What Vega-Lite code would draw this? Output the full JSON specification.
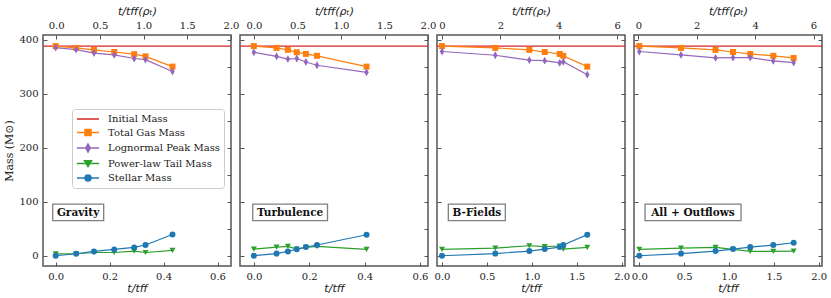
{
  "$schema": "https://vega.github.io/schema/vega-lite/v6.json",
  "padding": {"left": 3, "top": 4, "right": 0, "bottom": 0},
  "background": "white",
  "datasets": {
    "p1": [
      {"t": 0, "series": "Total Gas Mass", "m": 388}, {"t": 0.076, "series": "Total Gas Mass", "m": 384.6}, {"t": 0.142, "series": "Total Gas Mass", "m": 381}, {"t": 0.217, "series": "Total Gas Mass", "m": 377}, {"t": 0.291, "series": "Total Gas Mass", "m": 373}, {"t": 0.333, "series": "Total Gas Mass", "m": 369}, {"t": 0.433, "series": "Total Gas Mass", "m": 350},
      {"t": 0, "series": "Lognormal Peak Mass", "m": 385}, {"t": 0.076, "series": "Lognormal Peak Mass", "m": 381.5}, {"t": 0.142, "series": "Lognormal Peak Mass", "m": 375}, {"t": 0.217, "series": "Lognormal Peak Mass", "m": 371.6}, {"t": 0.291, "series": "Lognormal Peak Mass", "m": 365}, {"t": 0.333, "series": "Lognormal Peak Mass", "m": 363}, {"t": 0.433, "series": "Lognormal Peak Mass", "m": 341},
      {"t": 0, "series": "Power-law Tail Mass", "m": 3.5}, {"t": 0.076, "series": "Power-law Tail Mass", "m": 3.7}, {"t": 0.142, "series": "Power-law Tail Mass", "m": 6}, {"t": 0.217, "series": "Power-law Tail Mass", "m": 6}, {"t": 0.291, "series": "Power-law Tail Mass", "m": 8.5}, {"t": 0.333, "series": "Power-law Tail Mass", "m": 6}, {"t": 0.433, "series": "Power-law Tail Mass", "m": 9.8},
      {"t": 0, "series": "Stellar Mass", "m": 0}, {"t": 0.076, "series": "Stellar Mass", "m": 3.7}, {"t": 0.142, "series": "Stellar Mass", "m": 8}, {"t": 0.217, "series": "Stellar Mass", "m": 11.7}, {"t": 0.291, "series": "Stellar Mass", "m": 15.4}, {"t": 0.333, "series": "Stellar Mass", "m": 19.8}, {"t": 0.433, "series": "Stellar Mass", "m": 39.4}
    ],
    "p2": [
      {"t": 0, "series": "Total Gas Mass", "m": 388}, {"t": 0.082, "series": "Total Gas Mass", "m": 384.6}, {"t": 0.123, "series": "Total Gas Mass", "m": 381}, {"t": 0.155, "series": "Total Gas Mass", "m": 376.5}, {"t": 0.188, "series": "Total Gas Mass", "m": 373.5}, {"t": 0.228, "series": "Total Gas Mass", "m": 370}, {"t": 0.407, "series": "Total Gas Mass", "m": 350},
      {"t": 0, "series": "Lognormal Peak Mass", "m": 376.5}, {"t": 0.082, "series": "Lognormal Peak Mass", "m": 369}, {"t": 0.123, "series": "Lognormal Peak Mass", "m": 364}, {"t": 0.155, "series": "Lognormal Peak Mass", "m": 365}, {"t": 0.188, "series": "Lognormal Peak Mass", "m": 358.6}, {"t": 0.228, "series": "Lognormal Peak Mass", "m": 352.5}, {"t": 0.407, "series": "Lognormal Peak Mass", "m": 339.5},
      {"t": 0, "series": "Power-law Tail Mass", "m": 12.3}, {"t": 0.082, "series": "Power-law Tail Mass", "m": 16}, {"t": 0.123, "series": "Power-law Tail Mass", "m": 17.3}, {"t": 0.155, "series": "Power-law Tail Mass", "m": 12.3}, {"t": 0.188, "series": "Power-law Tail Mass", "m": 15.4}, {"t": 0.228, "series": "Power-law Tail Mass", "m": 17.3}, {"t": 0.407, "series": "Power-law Tail Mass", "m": 11.7},
      {"t": 0, "series": "Stellar Mass", "m": 0}, {"t": 0.082, "series": "Stellar Mass", "m": 4}, {"t": 0.123, "series": "Stellar Mass", "m": 8}, {"t": 0.155, "series": "Stellar Mass", "m": 12}, {"t": 0.188, "series": "Stellar Mass", "m": 16}, {"t": 0.228, "series": "Stellar Mass", "m": 19.8}, {"t": 0.407, "series": "Stellar Mass", "m": 38.9}
    ],
    "p3": [
      {"t": 0, "series": "Total Gas Mass", "m": 388}, {"t": 0.593, "series": "Total Gas Mass", "m": 384.6}, {"t": 0.972, "series": "Total Gas Mass", "m": 381}, {"t": 1.143, "series": "Total Gas Mass", "m": 377}, {"t": 1.31, "series": "Total Gas Mass", "m": 373.5}, {"t": 1.35, "series": "Total Gas Mass", "m": 370}, {"t": 1.617, "series": "Total Gas Mass", "m": 350},
      {"t": 0, "series": "Lognormal Peak Mass", "m": 378}, {"t": 0.593, "series": "Lognormal Peak Mass", "m": 371}, {"t": 0.972, "series": "Lognormal Peak Mass", "m": 362}, {"t": 1.143, "series": "Lognormal Peak Mass", "m": 361}, {"t": 1.31, "series": "Lognormal Peak Mass", "m": 357}, {"t": 1.35, "series": "Lognormal Peak Mass", "m": 359}, {"t": 1.617, "series": "Lognormal Peak Mass", "m": 335},
      {"t": 0, "series": "Power-law Tail Mass", "m": 11.7}, {"t": 0.593, "series": "Power-law Tail Mass", "m": 14.2}, {"t": 0.972, "series": "Power-law Tail Mass", "m": 18.5}, {"t": 1.143, "series": "Power-law Tail Mass", "m": 16.7}, {"t": 1.31, "series": "Power-law Tail Mass", "m": 18}, {"t": 1.35, "series": "Power-law Tail Mass", "m": 12.3}, {"t": 1.617, "series": "Power-law Tail Mass", "m": 15.4},
      {"t": 0, "series": "Stellar Mass", "m": 0}, {"t": 0.593, "series": "Stellar Mass", "m": 4}, {"t": 0.972, "series": "Stellar Mass", "m": 8.6}, {"t": 1.143, "series": "Stellar Mass", "m": 12.3}, {"t": 1.31, "series": "Stellar Mass", "m": 16}, {"t": 1.35, "series": "Stellar Mass", "m": 19.8}, {"t": 1.617, "series": "Stellar Mass", "m": 39}
    ],
    "p4": [
      {"t": 0, "series": "Total Gas Mass", "m": 388}, {"t": 0.465, "series": "Total Gas Mass", "m": 384.6}, {"t": 0.85, "series": "Total Gas Mass", "m": 381}, {"t": 1.045, "series": "Total Gas Mass", "m": 377}, {"t": 1.237, "series": "Total Gas Mass", "m": 373.5}, {"t": 1.494, "series": "Total Gas Mass", "m": 370}, {"t": 1.721, "series": "Total Gas Mass", "m": 366},
      {"t": 0, "series": "Lognormal Peak Mass", "m": 378}, {"t": 0.465, "series": "Lognormal Peak Mass", "m": 371.6}, {"t": 0.85, "series": "Lognormal Peak Mass", "m": 366}, {"t": 1.045, "series": "Lognormal Peak Mass", "m": 366.7}, {"t": 1.237, "series": "Lognormal Peak Mass", "m": 366.7}, {"t": 1.494, "series": "Lognormal Peak Mass", "m": 360.5}, {"t": 1.721, "series": "Lognormal Peak Mass", "m": 357.4},
      {"t": 0, "series": "Power-law Tail Mass", "m": 11.7}, {"t": 0.465, "series": "Power-law Tail Mass", "m": 14.2}, {"t": 0.85, "series": "Power-law Tail Mass", "m": 15.4}, {"t": 1.045, "series": "Power-law Tail Mass", "m": 11.7}, {"t": 1.237, "series": "Power-law Tail Mass", "m": 8}, {"t": 1.494, "series": "Power-law Tail Mass", "m": 8}, {"t": 1.721, "series": "Power-law Tail Mass", "m": 8.6},
      {"t": 0, "series": "Stellar Mass", "m": 0}, {"t": 0.465, "series": "Stellar Mass", "m": 4}, {"t": 0.85, "series": "Stellar Mass", "m": 8.6}, {"t": 1.045, "series": "Stellar Mass", "m": 12.3}, {"t": 1.237, "series": "Stellar Mass", "m": 16}, {"t": 1.494, "series": "Stellar Mass", "m": 19.8}, {"t": 1.721, "series": "Stellar Mass", "m": 24}
    ]
  },
  "spacing": 9,
  "bounds": "flush",
  "hconcat": [
    {
      "width": 188, "height": 231,
      "data": {"name": "p1"},
      "layer": [
        {"layer": [
          {"mark": {"type": "rule", "color": "#d62728", "strokeWidth": 1.2}, "data": {"values": [{}]}, "encoding": {"y": {"datum": 388, "type": "quantitative"}}},
          {"mark": {"type": "line", "strokeWidth": 1.2},
           "encoding": {
             "x": {"field": "t", "type": "quantitative", "scale": {"domain": [-0.047, 0.65], "nice": false, "zero": false}, "axis": {"orient": "bottom", "values": [0, 0.2, 0.4, 0.6], "format": ".1f", "title": "t/tff", "titleFontStyle": "italic", "titlePadding": 1}},
             "y": {"field": "m", "type": "quantitative", "scale": {"domain": [-19, 408.5], "nice": false, "zero": false}, "axis": {"orient": "left", "values": [0, 50, 100, 150, 200, 250, 300, 350, 400], "title": "Mass (M⊙)", "titleFont": "DejaVu Serif", "titlePadding": 4}},
             "color": {"field": "series", "type": "nominal",
               "scale": {"domain": ["Initial Mass", "Total Gas Mass", "Lognormal Peak Mass", "Power-law Tail Mass", "Stellar Mass"], "range": ["#d62728", "#ff7f0e", "#9467bd", "#2ca02c", "#1f77b4"]},
               "legend": {"orient": "none", "legendX": 29, "legendY": 74, "title": null, "labelFont": "DejaVu Serif", "labelFontSize": 10, "labelColor": "#222", "symbolSize": 100, "symbolStrokeWidth": 1.5, "rowPadding": 2.5, "labelOffset": 20, "padding": 4, "strokeColor": "#cccccc", "fillColor": "rgba(255,255,255,0.85)", "cornerRadius": 3, "symbolOpacity": 1,
                 "encode": {"symbols": {"update": {
                   "shape": {"signal": "datum.value==='Initial Mass'?'M-1,0H3.4':datum.value==='Total Gas Mass'?'M-1,0H3.4M0.6,-0.6H1.8V0.6H0.6Z':datum.value==='Lognormal Peak Mass'?'M-1,0H3.4M1.2,-0.8L1.65,0L1.2,0.8L0.75,0Z':datum.value==='Power-law Tail Mass'?'M-1,0H3.4M0.5,-0.55L1.9,-0.55L1.2,0.6Z':'M-1,0H3.4M1.8,0A0.6,0.6 0 1,1 0.6,0A0.6,0.6 0 1,1 1.8,0Z'"},
                   "stroke": {"signal": "datum.value==='Initial Mass'?'#d62728':datum.value==='Total Gas Mass'?'#ff7f0e':datum.value==='Lognormal Peak Mass'?'#9467bd':datum.value==='Power-law Tail Mass'?'#2ca02c':'#1f77b4'"},
                   "fill": {"signal": "datum.value==='Initial Mass'?'#d62728':datum.value==='Total Gas Mass'?'#ff7f0e':datum.value==='Lognormal Peak Mass'?'#9467bd':datum.value==='Power-law Tail Mass'?'#2ca02c':'#1f77b4'"},
                   "strokeWidth": {"value": 1.5},
                   "opacity": {"value": 1}
                 }}}
               }}
           }},
          {"mark": {"type": "point", "filled": true, "opacity": 1, "size": 36},
           "encoding": {
             "x": {"field": "t", "type": "quantitative"},
             "y": {"field": "m", "type": "quantitative"},
             "color": {"field": "series", "type": "nominal"},
             "shape": {"field": "series", "type": "nominal", "legend": null, "scale": {"domain": ["Total Gas Mass", "Lognormal Peak Mass", "Power-law Tail Mass", "Stellar Mass"], "range": ["square", "M0,-1.3L0.75,0L0,1.3L-0.75,0Z", "triangle-down", "circle"]}}
           }},
          {"mark": {"type": "rect", "fill": "white", "stroke": "#808080", "strokeWidth": 1.3}, "data": {"values": [{}]},
           "encoding": {"x": {"datum": -0.011, "type": "quantitative"}, "x2": {"datum": 0.178}, "y": {"datum": 95.4, "type": "quantitative"}, "y2": {"datum": 64.8}}},
          {"mark": {"type": "text", "font": "DejaVu Serif", "fontWeight": "bold", "fontSize": 10.5, "fill": "#111", "align": "center", "baseline": "middle"}, "data": {"values": [{}]},
           "encoding": {"x": {"datum": 0.083, "type": "quantitative"}, "y": {"datum": 80, "type": "quantitative"}, "text": {"value": "Gravity"}}}
        ]},
        {"mark": {"type": "point", "opacity": 0}, "data": {"values": [{}]},
         "encoding": {
           "x": {"datum": 0, "type": "quantitative", "scale": {"domain": [-0.15, 2.0], "nice": false, "zero": false}, "axis": {"orient": "top", "values": [0, 0.5, 1, 1.5, 2], "format": ".1f", "title": "t/tff(ρₜ)", "titleFontStyle": "italic", "titlePadding": 4}},
           "y": {"datum": 0, "type": "quantitative", "axis": {"orient": "right", "values": [0, 50, 100, 150, 200, 250, 300, 350, 400], "labels": false, "title": null}}
         }}
      ],
      "resolve": {"scale": {"x": "independent"}, "axis": {"x": "independent", "y": "independent"}}
    },
    {
      "width": 188, "height": 231,
      "data": {"name": "p2"},
      "layer": [
        {"layer": [
          {"mark": {"type": "rule", "color": "#d62728", "strokeWidth": 1.2}, "data": {"values": [{}]}, "encoding": {"y": {"datum": 388, "type": "quantitative"}}},
          {"mark": {"type": "line", "strokeWidth": 1.2},
           "encoding": {
             "x": {"field": "t", "type": "quantitative", "scale": {"domain": [-0.05, 0.629], "nice": false, "zero": false}, "axis": {"orient": "bottom", "values": [0, 0.2, 0.4, 0.6], "format": ".1f", "title": "t/tff", "titleFontStyle": "italic", "titlePadding": 1}},
             "y": {"field": "m", "type": "quantitative", "scale": {"domain": [-19, 408.5], "nice": false, "zero": false}, "axis": {"orient": "left", "values": [0, 50, 100, 150, 200, 250, 300, 350, 400], "labels": false, "title": null}},
             "color": {"field": "series", "type": "nominal"}
           }},
          {"mark": {"type": "point", "filled": true, "opacity": 1, "size": 36},
           "encoding": {
             "x": {"field": "t", "type": "quantitative"},
             "y": {"field": "m", "type": "quantitative"},
             "color": {"field": "series", "type": "nominal"},
             "shape": {"field": "series", "type": "nominal", "legend": null}
           }},
          {"mark": {"type": "rect", "fill": "white", "stroke": "#808080", "strokeWidth": 1.3}, "data": {"values": [{}]},
           "encoding": {"x": {"datum": -0.004, "type": "quantitative"}, "x2": {"datum": 0.266}, "y": {"datum": 95.4, "type": "quantitative"}, "y2": {"datum": 64.8}}},
          {"mark": {"type": "text", "font": "DejaVu Serif", "fontWeight": "bold", "fontSize": 10.5, "fill": "#111", "align": "center", "baseline": "middle"}, "data": {"values": [{}]},
           "encoding": {"x": {"datum": 0.131, "type": "quantitative"}, "y": {"datum": 80, "type": "quantitative"}, "text": {"value": "Turbulence"}}}
        ]},
        {"mark": {"type": "point", "opacity": 0}, "data": {"values": [{}]},
         "encoding": {
           "x": {"datum": 0, "type": "quantitative", "scale": {"domain": [-0.161, 2.0], "nice": false, "zero": false}, "axis": {"orient": "top", "values": [0, 0.5, 1, 1.5, 2], "format": ".1f", "title": "t/tff(ρₜ)", "titleFontStyle": "italic", "titlePadding": 4}},
           "y": {"datum": 0, "type": "quantitative", "axis": {"orient": "right", "values": [0, 50, 100, 150, 200, 250, 300, 350, 400], "labels": false, "title": null}}
         }}
      ],
      "resolve": {"scale": {"x": "independent"}, "axis": {"x": "independent", "y": "independent"}}
    },
    {
      "width": 188, "height": 231,
      "data": {"name": "p3"},
      "layer": [
        {"layer": [
          {"mark": {"type": "rule", "color": "#d62728", "strokeWidth": 1.2}, "data": {"values": [{}]}, "encoding": {"y": {"datum": 388, "type": "quantitative"}}},
          {"mark": {"type": "line", "strokeWidth": 1.2},
           "encoding": {
             "x": {"field": "t", "type": "quantitative", "scale": {"domain": [-0.056, 2.037], "nice": false, "zero": false}, "axis": {"orient": "bottom", "values": [0, 0.5, 1, 1.5, 2], "format": ".1f", "title": "t/tff", "titleFontStyle": "italic", "titlePadding": 1}},
             "y": {"field": "m", "type": "quantitative", "scale": {"domain": [-19, 408.5], "nice": false, "zero": false}, "axis": {"orient": "left", "values": [0, 50, 100, 150, 200, 250, 300, 350, 400], "labels": false, "title": null}},
             "color": {"field": "series", "type": "nominal"}
           }},
          {"mark": {"type": "point", "filled": true, "opacity": 1, "size": 36},
           "encoding": {
             "x": {"field": "t", "type": "quantitative"},
             "y": {"field": "m", "type": "quantitative"},
             "color": {"field": "series", "type": "nominal"},
             "shape": {"field": "series", "type": "nominal", "legend": null}
           }},
          {"mark": {"type": "rect", "fill": "white", "stroke": "#808080", "strokeWidth": 1.3}, "data": {"values": [{}]},
           "encoding": {"x": {"datum": 0.07, "type": "quantitative"}, "x2": {"datum": 0.705}, "y": {"datum": 95.4, "type": "quantitative"}, "y2": {"datum": 64.8}}},
          {"mark": {"type": "text", "font": "DejaVu Serif", "fontWeight": "bold", "fontSize": 10.5, "fill": "#111", "align": "center", "baseline": "middle"}, "data": {"values": [{}]},
           "encoding": {"x": {"datum": 0.388, "type": "quantitative"}, "y": {"datum": 80, "type": "quantitative"}, "text": {"value": "B-Fields"}}}
        ]},
        {"mark": {"type": "point", "opacity": 0}, "data": {"values": [{}]},
         "encoding": {
           "x": {"datum": 0, "type": "quantitative", "scale": {"domain": [-0.17, 6.27], "nice": false, "zero": false}, "axis": {"orient": "top", "values": [0, 2, 4, 6], "format": "d", "title": "t/tff(ρₜ)", "titleFontStyle": "italic", "titlePadding": 4}},
           "y": {"datum": 0, "type": "quantitative", "axis": {"orient": "right", "values": [0, 50, 100, 150, 200, 250, 300, 350, 400], "labels": false, "title": null}}
         }}
      ],
      "resolve": {"scale": {"x": "independent"}, "axis": {"x": "independent", "y": "independent"}}
    },
    {
      "width": 188, "height": 231,
      "data": {"name": "p4"},
      "layer": [
        {"layer": [
          {"mark": {"type": "rule", "color": "#d62728", "strokeWidth": 1.2}, "data": {"values": [{}]}, "encoding": {"y": {"datum": 388, "type": "quantitative"}}},
          {"mark": {"type": "line", "strokeWidth": 1.2},
           "encoding": {
             "x": {"field": "t", "type": "quantitative", "scale": {"domain": [-0.059, 2.037], "nice": false, "zero": false}, "axis": {"orient": "bottom", "values": [0, 0.5, 1, 1.5, 2], "format": ".1f", "title": "t/tff", "titleFontStyle": "italic", "titlePadding": 1}},
             "y": {"field": "m", "type": "quantitative", "scale": {"domain": [-19, 408.5], "nice": false, "zero": false}, "axis": {"orient": "left", "values": [0, 50, 100, 150, 200, 250, 300, 350, 400], "labels": false, "title": null}},
             "color": {"field": "series", "type": "nominal"}
           }},
          {"mark": {"type": "point", "filled": true, "opacity": 1, "size": 36},
           "encoding": {
             "x": {"field": "t", "type": "quantitative"},
             "y": {"field": "m", "type": "quantitative"},
             "color": {"field": "series", "type": "nominal"},
             "shape": {"field": "series", "type": "nominal", "legend": null}
           }},
          {"mark": {"type": "rect", "fill": "white", "stroke": "#808080", "strokeWidth": 1.3}, "data": {"values": [{}]},
           "encoding": {"x": {"datum": 0.064, "type": "quantitative"}, "x2": {"datum": 1.134}, "y": {"datum": 95.4, "type": "quantitative"}, "y2": {"datum": 64.8}}},
          {"mark": {"type": "text", "font": "DejaVu Serif", "fontWeight": "bold", "fontSize": 10.5, "fill": "#111", "align": "center", "baseline": "middle"}, "data": {"values": [{}]},
           "encoding": {"x": {"datum": 0.598, "type": "quantitative"}, "y": {"datum": 80, "type": "quantitative"}, "text": {"value": "All + Outflows"}}}
        ]},
        {"mark": {"type": "point", "opacity": 0}, "data": {"values": [{}]},
         "encoding": {
           "x": {"datum": 0, "type": "quantitative", "scale": {"domain": [-0.15, 6.29], "nice": false, "zero": false}, "axis": {"orient": "top", "values": [0, 2, 4, 6], "format": "d", "title": "t/tff(ρₜ)", "titleFontStyle": "italic", "titlePadding": 4}},
           "y": {"datum": 0, "type": "quantitative", "axis": {"orient": "right", "values": [0, 50, 100, 150, 200, 250, 300, 350, 400], "labels": false, "title": null}}
         }}
      ],
      "resolve": {"scale": {"x": "independent"}, "axis": {"x": "independent", "y": "independent"}}
    }
  ],
  "config": {
    "view": {"stroke": "#555555", "strokeWidth": 1.5},
    "axis": {"labelFont": "DejaVu Serif", "labelFontSize": 10, "labelColor": "#222222", "tickColor": "#555555", "tickSize": -4, "tickWidth": 1, "domain": false, "grid": false, "titleFont": "DejaVu Sans", "titleFontSize": 11, "titleFontWeight": "normal", "titleColor": "#222222", "labelPadding": 9, "labelOverlap": false, "labelFlush": false, "labelBound": false}
  }
}
